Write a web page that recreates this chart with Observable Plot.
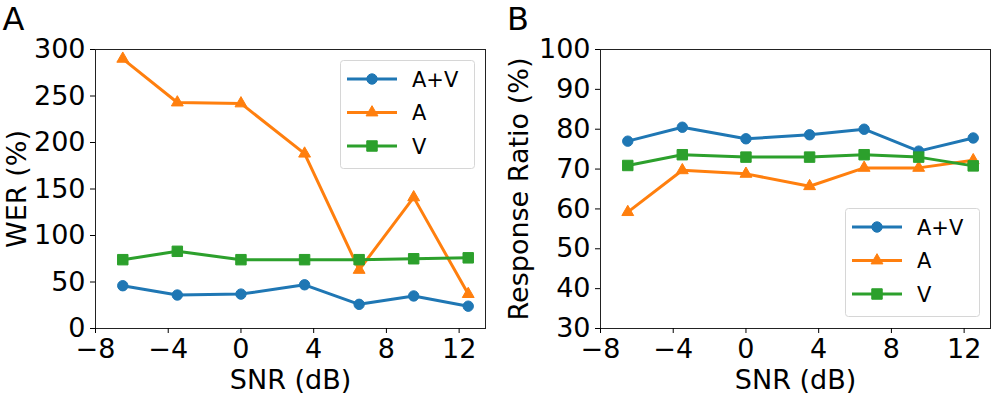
<!DOCTYPE html>
<html><head><meta charset="utf-8">
<script src="https://cdn.jsdelivr.net/npm/d3@7"></script>
<script src="https://cdn.jsdelivr.net/npm/@observablehq/plot@0.6"></script>
<style>
body{margin:0;background:#fff;font-family:"DejaVu Sans";}
#wrap{position:relative;width:997px;height:399px;overflow:hidden;background:#fff}
#wrap svg{position:absolute;top:0}
</style></head><body>
<div id="wrap"></div>
<script>
const snr = [-6.5, -3.5, 0, 3.5, 6.5, 9.5, 12.5];
const seriesNames = ["A+V", "A", "V"];
const seriesColors = ["#1f77b4", "#ff7f0e", "#2ca02c"];
const seriesSymbols = ["circle", "triangle", "square"];
const werAV = [46, 36, 37, 47, 26, 35, 24];
const werA = [290, 243, 242, 188, 63, 141, 37];
const werV = [74, 83, 74, 74, 74, 75, 76];
const rrAV = [77.0, 80.5, 77.6, 78.6, 80.0, 74.5, 77.8];
const rrA = [59.2, 69.7, 68.8, 65.7, 70.3, 70.3, 72.2];
const rrV = [70.9, 73.6, 73.0, 73.0, 73.6, 73.0, 70.8];
const xTicks = [-8, -4, 0, 4, 8, 12];
const werTicks = [0, 50, 100, 150, 200, 250, 300];
const rrTicks = [30, 40, 50, 60, 70, 80, 90, 100];
const panelLetters = ["A", "B"];
const xLabel = "SNR (dB)";
const yLabels = ["WER (%)", "Response Ratio (%)"];

const markerR = {circle: 5.2, triangle: 4.4, square: 5.9};
const H = 399, MT = 49, MB = 71;

function makePanel({vals, yDomain, yTicks, yLabel, yLabelOffset, width, marginLeft, marginRight, left, letter, letterX, legendCorner}) {
  const rows = seriesNames.map((name, i) => snr.map((x, j) => ({snr: x, value: vals[i][j], series: name})));
  const marks = [
    Plot.frame({stroke: "#222", strokeWidth: 1}),
    Plot.axisX({ticks: xTicks, tickFormat: d3.format("d"), tickSize: 5, tickPadding: 5.5, label: xLabel, labelAnchor: "center", labelOffset: 60, labelArrow: "none"}),
    Plot.axisY({ticks: yTicks, tickFormat: d3.format("d"), tickSize: 5, tickPadding: 5, label: yLabel, labelAnchor: "center", labelOffset: yLabelOffset, labelArrow: "none"})
  ];
  rows.forEach((d, i) => {
    marks.push(Plot.line(d, {x: "snr", y: "value", stroke: "series", strokeWidth: 3}));
    marks.push(Plot.dot(d, {x: "snr", y: "value", fill: "series", stroke: "series", strokeWidth: 1, symbol: "series", r: markerR[seriesSymbols[i]]}));
  });
  const svg = Plot.plot({
    width, height: H, marginLeft, marginRight, marginTop: MT, marginBottom: MB,
    style: {fontFamily: "DejaVu Sans", fontSize: "27px", color: "#000", background: "transparent", overflow: "visible"},
    x: {domain: [-8, 13.45]},
    y: {domain: yDomain},
    color: {domain: seriesNames, range: seriesColors},
    symbol: {domain: seriesNames, range: seriesSymbols},
    marks
  });
  svg.style.left = left + "px";
  const s = d3.select(svg);
  // panel letter
  s.append("text").attr("x", letterX).attr("y", 30).attr("font-size", 32).attr("text-anchor", "start").attr("fill", "#000").text(letter);
  // legend
  const bw = 134, bh = 108, inset = 11;
  const bx = width - marginRight - inset - bw;
  const by = legendCorner === "top" ? MT + inset : H - MB - 12 - bh;
  const g = s.append("g").attr("transform", `translate(${bx},${by})`);
  g.append("rect").attr("x", 0.5).attr("y", 0.5).attr("width", bw).attr("height", bh).attr("rx", 3)
    .attr("fill", "#fff").attr("fill-opacity", 0.8).attr("stroke", "#d6d6d6").attr("stroke-width", 1);
  const rowY = [19, 52.5, 86];
  seriesNames.forEach((name, i) => {
    const y = rowY[i];
    g.append("line").attr("x1", 7).attr("x2", 57).attr("y1", y).attr("y2", y)
      .attr("stroke", seriesColors[i]).attr("stroke-width", 3);
    const sym = {circle: d3.symbolCircle, triangle: d3.symbolTriangle, square: d3.symbolSquare}[seriesSymbols[i]];
    const r = markerR[seriesSymbols[i]];
    g.append("path").attr("d", d3.symbol(sym, Math.PI * r * r)()).attr("transform", `translate(32,${y})`)
      .attr("fill", seriesColors[i]).attr("stroke", seriesColors[i]).attr("stroke-width", 1);
    g.append("text").attr("x", 72).attr("y", y).attr("dy", "0.36em").attr("font-size", 21)
      .attr("text-anchor", "start").attr("fill", "#000").text(name);
  });
  document.getElementById("wrap").appendChild(svg);
}

makePanel({vals: [werAV, werA, werV], yDomain: [0, 300], yTicks: werTicks, yLabel: yLabels[0], yLabelOffset: 89,
  width: 497, marginLeft: 95, marginRight: 12, left: 0, letter: panelLetters[0], letterX: 2.5, legendCorner: "top"});
makePanel({vals: [rrAV, rrA, rrV], yDomain: [30, 100], yTicks: rrTicks, yLabel: yLabels[1], yLabelOffset: 91.5,
  width: 500, marginLeft: 103, marginRight: 7, left: 497, letter: panelLetters[1], letterX: 10, legendCorner: "bottom"});
</script>
</body></html>
